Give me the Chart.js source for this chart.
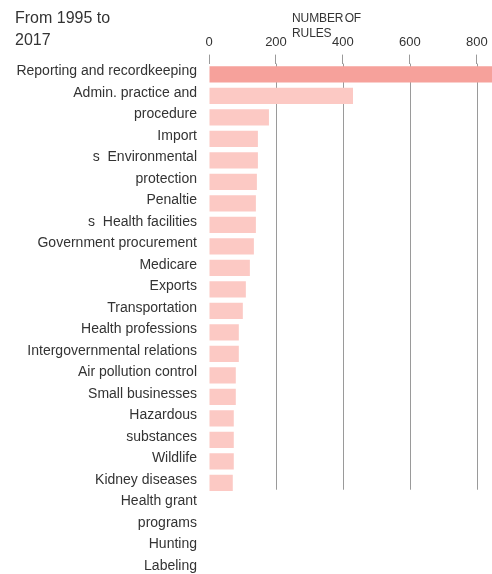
<!DOCTYPE html>
<html>
<head>
<meta charset="utf-8">
<script src="https://cdn.jsdelivr.net/npm/chart.js@4"></script>
<style>
  html, body { margin:0; padding:0; background:#fff; overflow:hidden; }
  body { width:492px; height:574px; position:relative; font-family:"Liberation Sans", Arial, Helvetica, sans-serif; color:#333; }
  canvas { position:absolute; left:0; top:0; }
  .title { position:absolute; left:15px; top:7px; font-size:16px; line-height:22px; color:#333; z-index:2; }
  .axt { position:absolute; left:292px; top:11px; font-size:12px; line-height:15px; color:#333; letter-spacing:-0.1px; word-spacing:-2px; z-index:2; }
</style>
</head>
<body>
<canvas id="chart" width="492" height="600"></canvas>
<div class="title">From 1995 to<br>2017</div>
<div class="axt">NUMBER OF<br>RULES</div>
<script>
"use strict";

// label lines as they appear down the left side (wrapped, one per row)
const LABEL_LINES = ['Reporting and recordkeeping', 'Admin. practice and', 'procedure', 'Import',
  's  Environmental', 'protection', 'Penaltie', 's  Health facilities', 'Government procurement',
  'Medicare', 'Exports', 'Transportation', 'Health professions', 'Intergovernmental relations',
  'Air pollution control', 'Small businesses', 'Hazardous', 'substances', 'Wildlife',
  'Kidney diseases', 'Health grant', 'programs', 'Hunting', 'Labeling'];
// number of rules per bar row
const RULES = [860, 430, 179, 146, 146, 143, 140, 140, 134, 122, 110, 101, 89, 89, 80, 80, 74, 74, 74, 71];
const X_TICKS = [0, 200, 400, 600, 800];
const X_MAX = 845;

const C = {top:'#f6a19b', bar:'#fcc9c4', grid:'#9a9a9a', ink:'#333'};
Chart.defaults.font.family = '"Liberation Sans", Arial, Helvetica, sans-serif';
Chart.defaults.color = C.ink;

// vertical rules stop at the last bar, drawn under the bars
const gridLines = {
  id:'gridLines',
  beforeDatasetsDraw(chart) {
    const x = chart.scales.x, y = chart.scales.y, ctx = chart.ctx;
    const row = y.getPixelForValue(1) - y.getPixelForValue(0);
    const bottom = y.getPixelForValue(RULES.length - 1) + row * 0.32;
    ctx.save();
    ctx.strokeStyle = C.grid;
    ctx.lineWidth = 1;
    X_TICKS.filter(v => v > 0).forEach(v => {
      const px = Math.round(x.getPixelForValue(v)) + 0.5;
      ctx.beginPath();
      ctx.moveTo(px, chart.chartArea.top);
      ctx.lineTo(px, bottom);
      ctx.stroke();
    });
    ctx.restore();
  }
};

new Chart(document.getElementById('chart'), {
  type:'bar',
  data:{
    labels: LABEL_LINES,
    datasets:[{
      data: RULES,
      backgroundColor: RULES.map((v, i) => i === 0 ? C.top : C.bar),
      barPercentage: 0.75, categoryPercentage: 1,
    }]
  },
  options:{
    indexAxis:'y', responsive:false, animation:false,
    layout:{padding:{left:0, right:0, top:31, bottom:4}},
    plugins:{legend:{display:false}, tooltip:{enabled:false}},
    scales:{
      x:{position:'top', min:0, max:X_MAX,
        afterBuildTicks: s => { s.ticks = X_TICKS.map(v => ({value:v})); },
        ticks:{font:{size:13}, color:C.ink, padding:4, includeBounds:false},
        grid:{drawOnChartArea:false, drawTicks:true, tickLength:9, tickColor:C.grid},
        border:{display:false}},
      y:{afterFit: s => { s.width = 209; },
        ticks:{font:{size:14}, color:C.ink, padding:12, autoSkip:false, labelOffset:-3},
        grid:{display:false, drawTicks:false},
        border:{display:false}}
    }
  },
  plugins:[gridLines]
});
</script>
</body>
</html>
